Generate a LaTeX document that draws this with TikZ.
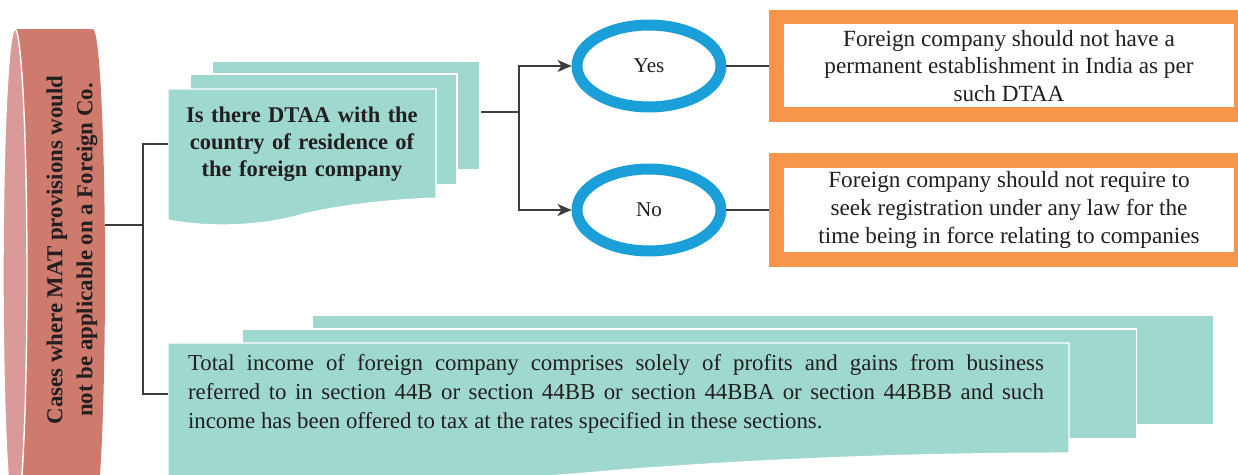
\documentclass[tikz,border=0pt]{standalone}
\usepackage{fontspec}
\setmainfont{Liberation Serif}
\usetikzlibrary{shapes.geometric,arrows.meta,positioning}

\definecolor{tealpage}{HTML}{9FD8CF}
\definecolor{salmon}{HTML}{CE7A6D}
\definecolor{salmonlight}{HTML}{DA9A97}
\definecolor{ringblue}{HTML}{1A9FD9}
\definecolor{boxorange}{HTML}{F7964A}
\definecolor{inkgray}{HTML}{231F20}
\definecolor{linegray}{HTML}{3C3C3C}

\tikzset{
  page/.style={fill=tealpage,draw=white,line width=0.6pt,inner sep=0pt},
  choice/.style={ellipse,draw=ringblue,fill=white,line width=0.22cm,
    minimum width=2.88cm,minimum height=1.64cm,text=inkgray,
    font=\fontsize{12}{14}\selectfont},
  result/.style={rectangle,draw=boxorange,fill=white,line width=0.3cm,
    minimum width=9.3cm,align=center,text=inkgray,
    font=\fontsize{13.2}{15.8}\selectfont},
  link/.style={draw=linegray,line width=0.8pt},
}

\begin{document}
\begin{tikzpicture}[x=0.02cm,y=-0.02cm]
  \useasboundingbox (0,0) rectangle (1238,475);
  \clip (0,0) rectangle (1238,475);

  \fill[salmon] (15,29) rectangle (93,521);
  \fill[salmon] (93,275) ellipse[x radius=0.24cm,y radius=4.92cm];
  \filldraw[fill=salmonlight,draw=white,line width=0.8pt] (15,275) ellipse[x radius=0.24cm,y radius=4.92cm];
  \node[rotate=90,align=center,text=inkgray,font=\bfseries\fontsize{13}{17}\selectfont] (cases) at (72,250)
    {Cases where MAT provisions would\\not be applicable on a Foreign Co.};
  \coordinate (casesrim) at (105,225);
  \coordinate (trunk) at (143,225);

  \node[page,minimum width=5.36cm,minimum height=2.18cm] (dtaa3) at (346,115.5) {};
  \node[page,minimum width=5.34cm,minimum height=2.22cm] (dtaa2) at (323.5,129.5) {};
  \filldraw[fill=tealpage,draw=white,line width=0.6pt] (168,89) -- (436,89) -- (436,198)
    .. controls (380,200) and (330,207) .. (300,215)
    .. controls (260,226) and (210,228) .. (168,220) -- cycle;
  \node[align=center,text width=5.36cm,inner sep=0pt,text=inkgray,
    font=\bfseries\fontsize{12.8}{15.5}\selectfont] (dtaa) at (302,144)
    {Is there DTAA with the\\country of residence of\\the foreign company};

  \node[page,minimum width=18.04cm,minimum height=2.2cm] (income3) at (763,370) {};
  \node[page,minimum width=17.9cm,minimum height=2.2cm] (income2) at (689.5,384) {};
  \filldraw[fill=tealpage,draw=white,line width=0.6pt] (168,343) -- (1069,343) -- (1069,453)
    .. controls (900,453) and (750,460) .. (620,470)
    .. controls (450,485) and (300,490) .. (168,480) -- cycle;
  \node[align=justify,text width=17.12cm,inner xsep=0.4cm,inner ysep=0pt,text=inkgray,
    font=\fontsize{13}{16.5}\selectfont] (income) at (616,394)
    {Total income of foreign company comprises solely of profits and gains from business\linebreak
     referred to in section 44B or section 44BB or section 44BBA or section 44BBB and such\linebreak
     income has been offered to tax at the rates specified in these sections.};

  \node[choice] (yes) at (649,66) {Yes};
  \node[choice] (no) at (649,210) {No};
  \coordinate (fork) at (519,112);

  \node[result,minimum height=1.96cm] (pe) at (1009,66)
    {Foreign company should not have a\\permanent establishment in India as per\\such DTAA};
  \node[result,minimum height=1.98cm] (reg) at (1009,210)
    {Foreign company should not require to\\seek registration under any law for the\\time being in force relating to companies};

  \draw[link] (casesrim) -- (trunk);
  \draw[link] (dtaa.west) -| (trunk) |- (income.west);
  \draw[link] (dtaa3.east |- fork) -- (fork);
  \draw[link,-{Stealth[length=0.28cm,width=0.24cm,inset=0.08cm]}] (fork) |- (yes.west);
  \draw[link,-{Stealth[length=0.28cm,width=0.24cm,inset=0.08cm]}] (fork) |- (no.west);
  \draw[link] (yes.east) -- (pe.west);
  \draw[link] (no.east) -- (reg.west);
\end{tikzpicture}
\end{document}
